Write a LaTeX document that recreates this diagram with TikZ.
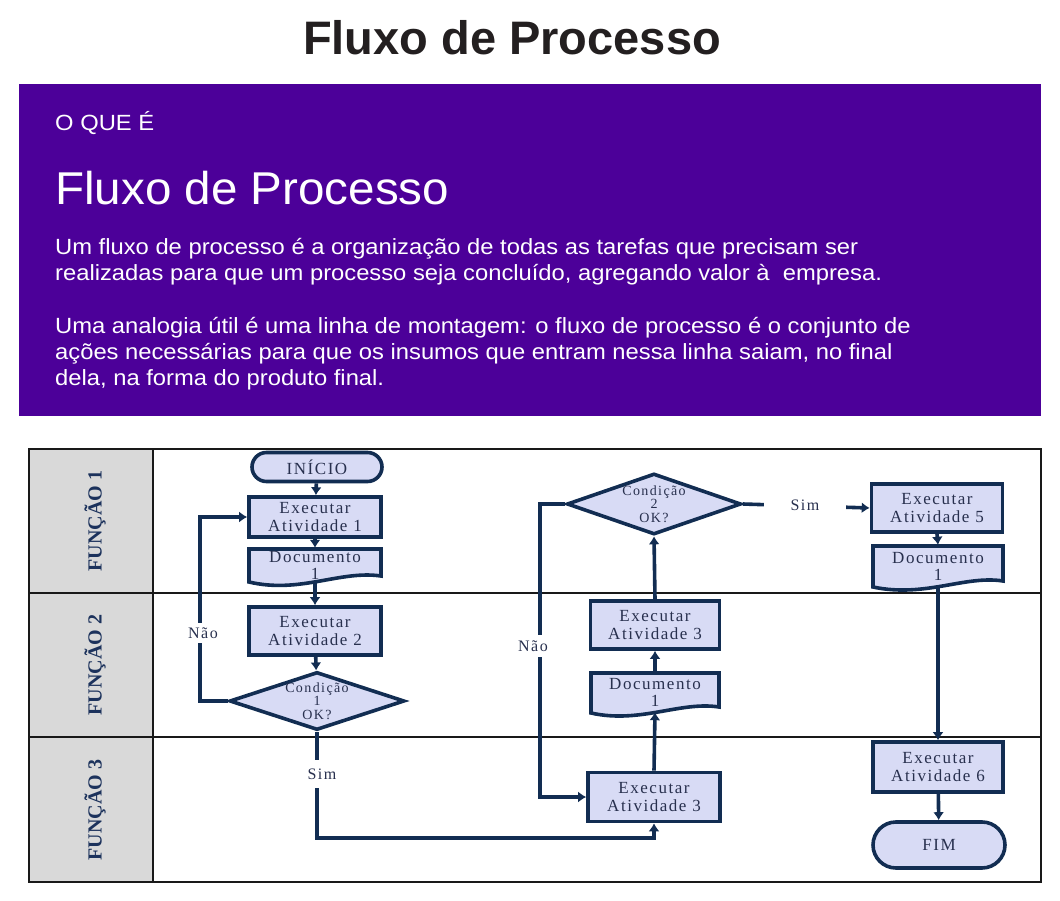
\documentclass[tikz,border=0pt]{standalone}
\usepackage{fontspec}
\setmainfont{Liberation Serif}
\newfontfamily\sansf{Liberation Sans}
\newfontfamily\nodef[LetterSpace=9]{Liberation Serif}
\newfontfamily\diaf[LetterSpace=10]{Liberation Serif}
\newfontfamily\lanef{Liberation Serif}
\usetikzlibrary{arrows.meta,shapes.geometric,shapes.misc}
\definecolor{purp}{RGB}{76,0,153}
\definecolor{navy}{RGB}{18,45,82}
\definecolor{navytext}{RGB}{40,48,78}
\definecolor{lav}{RGB}{216,219,245}
\definecolor{lanegray}{RGB}{217,217,217}
\definecolor{lanetext}{RGB}{28,50,92}
\definecolor{titlegray}{RGB}{35,31,32}
\tikzset{
  conn/.style={draw=navy, line width=3.6pt},
  arr/.style={conn, -{Latex[length=8pt,width=11pt]}},
  nodebox/.style={draw=navy, line width=3.6pt, fill=lav, align=center, inner sep=0pt,
    text=navytext, font=\nodef\fontsize{17}{18}\selectfont},
  termbox/.style={nodebox, rounded rectangle},
  doctext/.style={align=center, inner sep=0pt, text=navytext, font=\nodef\fontsize{17}{17}\selectfont},
  docline/.style={draw=navy, line width=3.6pt, fill=lav},
  decision/.style={nodebox, diamond, shape aspect=3, font=\diaf\fontsize{14}{13.5}\selectfont},
  lbl/.style={fill=white, text=navytext, font=\nodef\fontsize{16}{17}\selectfont},
  lane/.style={font=\lanef\bfseries\fontsize{20}{22}\selectfont, text=lanetext, rotate=90},
  frame/.style={draw=black!90, line width=2.2pt},
  hdr/.style={inner sep=0pt, text=white, transform shape}
}
\begin{document}
\begin{tikzpicture}[x=1pt,y=-1pt]
\useasboundingbox (0,0) rectangle (1060,901);

% header
\node[font=\sansf\bfseries\fontsize{47}{50}\selectfont, text=titlegray] (title) at (512,38) {Fluxo de Processo};
\fill[purp] (19,84) rectangle (1041,416);
\node[hdr, anchor=base west, xscale=1.08, font=\sansf\fontsize{22}{24}\selectfont] (oque) at (55,131) {O QUE É};
\node[hdr, anchor=base west, xscale=1.034, font=\sansf\fontsize{46}{50}\selectfont] (sub) at (55,205) {Fluxo de Processo};
\node[hdr, anchor=north west, xscale=1.08, align=left, font=\sansf\fontsize{22}{26}\selectfont] (p1) at (55,238)
  {Um fluxo de processo é a organização de todas as tarefas que precisam ser\\realizadas para que um processo seja concluído, agregando valor à \ empresa.};
\node[hdr, anchor=north west, xscale=1.08, align=left, font=\sansf\fontsize{22}{26}\selectfont] (p2) at (55,317)
  {Uma analogia útil é uma linha de montagem: o fluxo de processo é o conjunto de\\ações necessárias para que os insumos que entram nessa linha saiam, no final\\dela, na forma do produto final.};

% swimlanes
\fill[lanegray] (29,449) rectangle (153,882);
\draw[frame] (29,449) rectangle (1041,882);
\draw[frame] (153,449) -- (153,882);
\draw[frame] (29,593) -- (1041,593);
\draw[frame] (29,737) -- (1041,737);
\node[lane] (f1) at (95,521) {FUNÇÃO 1};
\node[lane] (f2) at (95,665) {FUNÇÃO 2};
\node[lane] (f3) at (95,810) {FUNÇÃO 3};

% document shapes
\filldraw[docline] (249,549) -- (381,549) -- (381,576) .. controls (340,570) and (300,594) .. (249,582) -- cycle;
\filldraw[docline] (591,673) -- (719,673) -- (719,707) .. controls (680,701) and (640,724) .. (591,713) -- cycle;
\filldraw[docline] (873,546) -- (1003,546) -- (1003,581) .. controls (965,575) and (925,598) .. (873,587) -- cycle;

% nodes
\node[termbox, minimum width=130pt, minimum height=29pt] (inicio) at (317,467) {INÍCIO};
\node[nodebox, minimum width=132pt, minimum height=40pt] (ex1) at (315,517) {Executar\\Atividade 1};
\node[doctext, minimum width=132pt, minimum height=34pt] (docA) at (315,565) {Documento\\1};
\node[nodebox, minimum width=132pt, minimum height=48pt] (ex2) at (315,631) {Executar\\Atividade 2};
\node[decision, minimum width=175pt, minimum height=58pt] (c1) at (317,701) {Condição\\1\\OK?};

\node[decision, minimum width=172pt, minimum height=61pt] (c2) at (654,504) {Condição\\2\\OK?};
\node[nodebox, minimum width=129pt, minimum height=48pt] (ex3a) at (655,625) {Executar\\Atividade 3};
\node[doctext, minimum width=128pt, minimum height=40pt] (docB) at (655,692) {Documento\\1};
\node[nodebox, minimum width=132pt, minimum height=49pt] (ex3b) at (654,797) {Executar\\Atividade 3};

\node[nodebox, minimum width=131pt, minimum height=48pt] (ex5) at (937,508) {Executar\\Atividade 5};
\node[doctext, minimum width=130pt, minimum height=42pt] (docC) at (938,566) {Documento\\1};
\node[nodebox, minimum width=130pt, minimum height=50pt] (ex6) at (938,767) {Executar\\Atividade 6};
\node[termbox, minimum width=132pt, minimum height=46pt] (fim) at (939,845) {FIM};

% helper coordinates
\coordinate (la) at (200,517);
\coordinate (s1) at (317,838);
\coordinate (nb) at (540,797);

% connectors
\draw[arr] (inicio) -- (ex1);
\draw[arr] (ex1) -- (docA.north);
\draw[arr] (docA.south) -- (ex2);
\draw[arr] (ex2) -- (c1);
\draw[arr] (c1.west) -| (la) -- (ex1.west);
\draw[arr] (c1.south) -- (s1) -| (ex3b.south);
\draw[arr] (ex3b.north) -- (docB.south);
\draw[arr] (docB.north) -- (ex3a.south);
\draw[arr] (ex3a.north) -- (c2.south);
\draw[arr] (c2.west) -| (nb) -- (ex3b.west);
\draw[arr] (c2.east) -- (ex5.west);
\draw[arr] (ex5.south) -- (docC.north);
\draw[arr] (docC.south) -- (ex6.north);
\draw[arr] (ex6) -- (fim);

% labels
\node[lbl, inner xsep=2pt, inner ysep=5pt] (nao1) at (203,633) {Não};
\node[lbl, inner xsep=2pt, inner ysep=6pt] (nao2) at (533,646) {Não};
\node[lbl, inner xsep=4pt, inner ysep=9pt] (sim1) at (322,774) {Sim};
\node[lbl, minimum width=82pt, inner ysep=4pt] (sim2) at (805,505) {Sim};
\end{tikzpicture}
\end{document}
